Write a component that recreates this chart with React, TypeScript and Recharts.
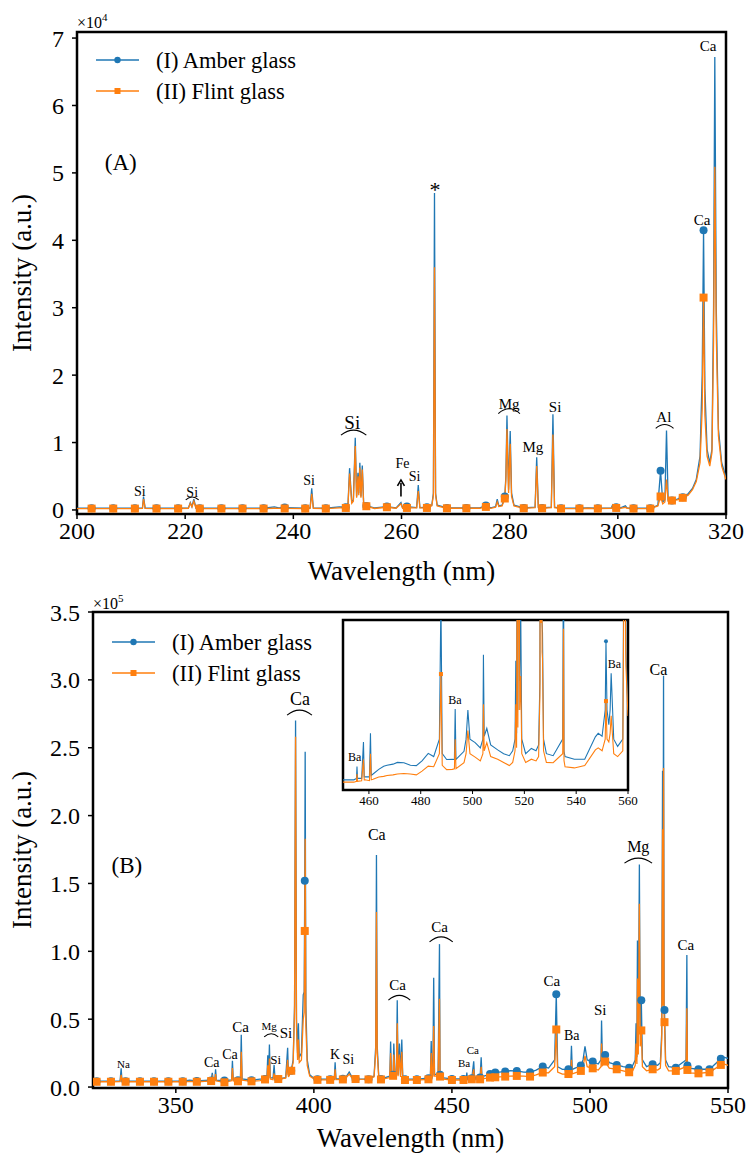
import React from 'react';
import { ComposedChart, Line, XAxis, YAxis, ReferenceDot, ReferenceLine, ReferenceArea } from 'recharts';

const BLUE = '#1f77b4';
const ORANGE = '#ff7f0e';
const FONT = '"Liberation Serif", "DejaVu Serif", serif';

// ---------------- Panel A (200-320 nm) ----------------
const wlA = [200.0, 202.7, 206.7, 210.7, 212.1, 212.3, 212.6, 214.7, 218.7, 220.6, 220.95, 221.25, 221.6, 222.0, 222.7, 226.7, 230.6, 234.5, 236.5, 237.3, 238.4, 242.2, 243.1, 243.4, 243.7, 246.0, 248.5, 249.7, 250.1, 250.4, 250.8, 251.1, 251.45, 251.7, 251.95, 252.1, 252.3, 252.5, 252.75, 253.0, 253.5, 255.0, 257.3, 259.0, 259.9, 260.2, 261.0, 262.8, 263.1, 263.4, 264.7, 265.6, 265.9, 266.1, 266.3, 266.6, 268.4, 272.0, 274.5, 275.6, 276.5, 277.4, 277.7, 278.0, 278.6, 279.1, 279.3, 279.5, 279.8, 280.1, 280.35, 280.8, 282.6, 284.7, 285.0, 285.3, 286.0, 287.7, 288.0, 288.3, 289.5, 292.9, 294.5, 296.3, 298.8, 299.0, 299.3, 299.7, 300.5, 301.4, 301.7, 302.9, 306.0, 307.4, 307.9, 308.3, 308.7, 309.0, 309.3, 310.0, 311.0, 312.0, 313.0, 313.8, 314.5, 315.2, 315.6, 315.85, 316.1, 316.5, 317.0, 317.4, 317.7, 317.93, 318.2, 318.6, 319.2, 320.0];
const amberA = [250, 250, 250, 250, 260, 2000, 260, 250, 250, 300, 1100, 500, 1600, 300, 250, 250, 250, 250, 450, 300, 350, 250, 300, 3200, 300, 250, 450, 400, 700, 6200, 1200, 1500, 10700, 2000, 5500, 2500, 7000, 2000, 6600, 1000, 600, 300, 500, 300, 1100, 300, 500, 350, 3700, 350, 400, 700, 2500, 47000, 2500, 700, 300, 300, 300, 650, 300, 500, 1600, 600, 700, 2000, 5000, 14000, 3000, 11700, 2500, 700, 300, 400, 7800, 400, 300, 400, 14200, 400, 250, 250, 300, 250, 300, 700, 300, 400, 300, 600, 300, 250, 250, 700, 5800, 1200, 1500, 11800, 1500, 1400, 1600, 1900, 2400, 3200, 4500, 8000, 20000, 41500, 18000, 9000, 7000, 9000, 30000, 67200, 30000, 12000, 7000, 4800];
const flintA = [200, 200, 200, 200, 220, 1600, 220, 200, 200, 250, 1000, 450, 1300, 250, 200, 200, 200, 200, 250, 220, 220, 200, 250, 2400, 250, 200, 300, 300, 600, 5400, 1000, 1300, 9500, 1800, 5000, 2200, 6300, 1800, 6000, 900, 550, 220, 400, 250, 900, 250, 300, 300, 2800, 300, 300, 600, 2200, 36000, 2200, 600, 250, 250, 250, 450, 250, 400, 1200, 500, 600, 1700, 4500, 12000, 2500, 9800, 2000, 600, 250, 350, 6500, 350, 250, 350, 11200, 350, 200, 200, 250, 200, 250, 500, 250, 300, 250, 400, 250, 200, 200, 600, 2000, 900, 1200, 4500, 1300, 1400, 1500, 1800, 2200, 3000, 4200, 7000, 15000, 31500, 14000, 8000, 6500, 8500, 25000, 50900, 26000, 11000, 6500, 4500];
const marksA = [202.7, 206.7, 210.7, 214.7, 218.7, 222.7, 226.7, 230.6, 234.5, 238.4, 242.2, 246.0, 249.7, 253.5, 257.3, 261.0, 264.7, 268.4, 272.0, 275.6, 279.1, 282.6, 286.0, 289.5, 292.9, 296.3, 299.7, 302.9, 306.0, 307.9, 310.0, 312.0, 315.85];
const xTicksA = [200, 220, 240, 260, 280, 300, 320];
const yTicksA = [0, 10000, 20000, 30000, 40000, 50000, 60000, 70000];

const labelsA = [
  { t: 'Si', x: 211.6, y: 2700, s: 14 },
  { t: 'Si', x: 221.3, y: 2600, s: 14 },
  { t: 'Si', x: 242.9, y: 4300, s: 14 },
  { t: 'Si', x: 250.9, y: 12900, s: 19 },
  { t: 'Fe', x: 260.2, y: 6900, s: 14 },
  { t: 'Si', x: 262.4, y: 4900, s: 14 },
  { t: '*', x: 266.2, y: 47600, s: 22 },
  { t: 'Mg', x: 279.9, y: 15700, s: 15 },
  { t: 'Mg', x: 284.3, y: 9400, s: 15 },
  { t: 'Si', x: 288.4, y: 15300, s: 15 },
  { t: 'Al', x: 308.5, y: 13800, s: 15 },
  { t: 'Ca', x: 315.6, y: 43000, s: 15 },
  { t: 'Ca', x: 316.7, y: 68800, s: 15 },
  { t: '(A)', x: 208.1, y: 51500, s: 23 },
];
const arcsA = [
  { x1: 220.1, x2: 222.5, y: 1500 },
  { x1: 248.8, x2: 253.5, y: 11100 },
  { x1: 277.9, x2: 281.9, y: 14300 },
  { x1: 307.0, x2: 310.3, y: 12100 },
];

// ---------------- Panel B (320-550 nm, inset to 560 nm) ----------------
const wlB = [320.0, 321.3, 326.5, 329.8, 330.2, 330.5, 331.8, 337.0, 342.1, 347.3, 352.5, 355.0, 357.6, 362.0, 362.8, 363.2, 363.6, 364.1, 364.4, 364.7, 367.6, 370.2, 370.5, 370.8, 372.5, 373.4, 373.7, 374.0, 377.4, 380.5, 382.3, 383.0, 383.3, 383.6, 383.9, 384.2, 385.2, 385.6, 385.9, 387.1, 389.8, 390.5, 390.8, 391.8, 392.5, 393.0, 393.37, 393.7, 394.1, 394.4, 394.7, 395.5, 396.15, 396.5, 396.7, 396.85, 397.1, 397.6, 398.5, 400.0, 401.3, 405.9, 407.4, 407.7, 408.0, 410.5, 411.5, 412.8, 413.9, 415.1, 419.8, 421.8, 422.4, 422.67, 422.95, 423.5, 424.3, 427.5, 427.8, 428.1, 428.7, 428.95, 429.4, 429.9, 430.2, 430.5, 431.0, 431.4, 431.85, 432.2, 433.0, 437.3, 441.5, 442.2, 442.5, 442.8, 443.1, 443.4, 443.7, 445.0, 445.5, 445.7, 446.2, 450.0, 454.2, 455.2, 455.4, 455.6, 457.2, 457.9, 458.2, 458.5, 460.2, 460.6, 460.9, 461.6, 463.8, 465.7, 467.0, 469.3, 471.0, 473.5, 476.0, 478.3, 480.5, 482.9, 485.0, 487.2, 487.8, 488.3, 490.0, 492.2, 493.0, 493.3, 493.6, 496.7, 497.5, 498.2, 499.0, 501.0, 503.0, 504.0, 504.2, 504.5, 505.5, 507.0, 509.7, 512.0, 514.2, 515.5, 516.4, 516.7, 517.0, 517.2, 517.5, 517.9, 518.2, 518.6, 519.0, 520.5, 522.7, 524.5, 525.5, 526.0, 526.3, 526.45, 526.65, 526.85, 527.0, 527.4, 528.5, 531.1, 534.8, 535.1, 535.3, 535.7, 539.3, 543.3, 547.4, 548.5, 550.0, 551.2, 551.5, 551.9, 552.6, 553.1, 553.5, 554.5, 556.0, 558.0, 558.6, 559.2, 560.0];
const amberB = [4300, 4300, 4300, 4400, 13900, 4400, 4300, 4300, 4300, 4300, 4300, 5000, 4500, 5000, 4800, 10400, 5000, 5000, 13100, 5000, 4800, 5200, 19400, 5200, 5000, 6000, 38600, 6000, 5000, 5800, 6000, 7000, 23500, 8000, 31400, 7000, 6500, 16300, 7000, 6000, 7000, 28900, 8000, 12000, 20000, 60000, 270000, 50000, 25000, 47000, 22000, 25000, 68000, 70000, 152000, 247000, 60000, 20000, 9000, 6500, 5800, 5800, 6000, 18200, 6000, 6200, 7000, 11000, 7000, 6000, 5800, 8000, 30000, 171000, 30000, 8000, 6000, 8000, 33600, 9000, 9000, 32000, 9000, 9500, 64000, 9000, 32000, 8500, 35000, 7000, 5800, 5800, 6500, 8000, 34000, 8000, 9000, 80600, 9000, 10000, 105300, 9000, 7000, 6000, 6000, 6500, 10600, 6500, 6500, 19000, 7000, 7000, 7000, 22000, 7500, 8000, 9600, 10700, 11000, 11400, 12000, 11900, 11000, 10900, 12500, 15100, 14000, 20000, 68300, 15000, 13000, 13100, 13000, 30400, 13000, 15800, 20000, 30000, 20000, 18800, 17000, 20000, 49000, 21000, 23700, 18000, 16300, 15000, 14300, 16000, 20000, 47000, 22000, 108000, 30000, 164000, 40000, 64000, 20000, 15000, 16800, 16000, 18000, 40000, 233000, 70000, 303000, 60000, 56700, 20000, 15000, 14300, 20000, 97200, 15800, 14000, 13100, 13100, 20800, 22000, 21000, 30000, 53700, 30000, 25000, 30000, 42700, 20000, 17500, 20000, 120000, 50000, 30000];
const flintB = [3800, 3900, 3900, 4000, 9000, 4000, 3900, 3900, 3900, 3900, 3900, 4200, 3900, 4400, 4400, 7500, 4500, 4500, 9500, 4500, 3500, 4600, 14000, 4600, 4200, 5000, 26000, 5000, 4200, 4800, 5600, 6000, 16000, 6500, 21000, 6000, 5500, 10000, 5800, 5900, 6500, 20000, 7500, 12000, 18000, 55000, 258000, 45000, 20000, 35000, 18000, 20000, 50000, 55000, 115000, 183000, 45000, 16000, 8000, 6000, 5300, 5300, 5500, 13000, 5500, 5600, 6300, 9500, 6300, 5900, 5600, 7500, 25000, 129000, 25000, 7000, 5600, 7000, 25000, 8000, 8300, 24000, 8000, 8500, 47000, 8000, 24000, 7500, 26000, 6000, 5200, 5200, 5700, 7000, 25000, 7000, 8000, 45000, 8000, 8000, 65000, 7700, 6000, 5200, 5200, 5500, 8000, 5500, 5700, 13000, 6000, 6000, 5700, 15000, 6000, 6200, 7000, 7200, 7500, 7700, 8000, 8200, 8000, 7700, 9000, 10700, 10500, 15000, 42400, 11000, 9500, 9600, 9800, 20000, 9800, 11900, 15000, 23000, 15000, 13800, 12500, 15000, 32000, 16000, 18800, 14000, 13100, 12000, 10900, 12000, 16000, 32000, 17000, 80000, 24000, 135000, 30000, 41700, 15000, 12000, 13100, 12500, 14000, 35000, 190000, 60000, 235000, 50000, 47800, 16000, 12000, 11900, 15000, 58000, 12600, 10500, 10100, 10900, 16300, 17000, 16000, 20000, 33100, 20000, 19000, 22000, 28000, 15000, 14000, 16000, 100000, 45000, 28000];
const marksB = [321.3, 326.5, 331.8, 337.0, 342.1, 347.3, 352.5, 357.6, 362.8, 367.6, 372.5, 377.4, 382.3, 387.1, 391.8, 396.7, 401.3, 405.9, 410.5, 415.1, 419.8, 424.3, 428.7, 433.0, 437.3, 441.5, 445.7, 450.0, 454.2, 457.2, 460.2, 463.8, 465.7, 469.3, 473.5, 478.3, 482.9, 487.8, 492.2, 496.7, 501.0, 505.5, 509.7, 514.2, 518.6, 522.7, 527.0, 531.1, 535.3, 539.3, 543.3, 547.4];
const marksInset = [487.8, 551.5];
const xTicksB = [350, 400, 450, 500, 550];
const yTicksB = [0, 50000, 100000, 150000, 200000, 250000, 300000, 350000];
const xTicksInset = [460, 480, 500, 520, 540, 560];

const labelsB = [
  { t: 'Na', x: 331.0, y: 17000, s: 11 },
  { t: 'Ca', x: 363.0, y: 18000, s: 14 },
  { t: 'Ca', x: 369.6, y: 24000, s: 14 },
  { t: 'Ca', x: 373.5, y: 44000, s: 15 },
  { t: 'Mg', x: 383.8, y: 45000, s: 11 },
  { t: 'Si', x: 386.2, y: 20000, s: 13 },
  { t: 'Si', x: 389.9, y: 40000, s: 15 },
  { t: 'Ca', x: 395.0, y: 286000, s: 18 },
  { t: 'K', x: 407.7, y: 24000, s: 14 },
  { t: 'Si', x: 412.5, y: 20000, s: 14 },
  { t: 'Ca', x: 422.8, y: 186000, s: 16 },
  { t: 'Ca', x: 430.3, y: 75000, s: 15 },
  { t: 'Ca', x: 445.5, y: 118000, s: 15 },
  { t: 'Ba', x: 454.4, y: 17500, s: 11 },
  { t: 'Ca', x: 457.6, y: 27000, s: 11 },
  { t: 'Ca', x: 486.2, y: 78000, s: 15 },
  { t: 'Ba', x: 493.4, y: 38000, s: 14 },
  { t: 'Si', x: 503.7, y: 57000, s: 15 },
  { t: 'Mg', x: 517.5, y: 177000, s: 16 },
  { t: 'Ca', x: 524.8, y: 308000, s: 16 },
  { t: 'Ca', x: 534.7, y: 105000, s: 15 },
  { t: '(B)', x: 332.3, y: 163000, s: 23 },
];
const arcsB = [
  { x1: 382.0, x2: 387.1, y: 37000 },
  { x1: 390.3, x2: 399.3, y: 274000 },
  { x1: 427.0, x2: 434.9, y: 64000 },
  { x1: 441.9, x2: 450.3, y: 107000 },
  { x1: 512.5, x2: 522.5, y: 165000 },
];
const labelsInset = [
  { t: 'Ba', x: 454.5, y: 14000, s: 12 },
  { t: 'Ba', x: 493.2, y: 33400, s: 12 },
  { t: 'Ba', x: 554.8, y: 46000, s: 12 },
];

// tables the library needs
const tableA = wlA.map((x, i) => ({ x, amber: amberA[i], flint: flintA[i] }));
const tableB = wlB.map((x, i) => ({ x, amber: amberB[i], flint: flintB[i] }));

function markerDot(marks: number[], kind: 'circle' | 'square', color: string, size: number) {
  const set = new Set(marks);
  return (p: any) => {
    const key = `m-${kind}-${p.index}`;
    if (!p || !p.payload || !set.has(p.payload.x) || p.cx == null || p.cy == null || isNaN(p.cx) || isNaN(p.cy)) {
      return <g key={key} />;
    }
    if (kind === 'circle') return <circle key={key} cx={p.cx} cy={p.cy} r={size / 2} fill={color} />;
    return <rect key={key} x={p.cx - size / 2} y={p.cy - size / 2} width={size} height={size} fill={color} />;
  };
}

function textLabel(l: { t: string; x: number; y: number; s: number }, key: string) {
  return (
    <ReferenceDot
      key={key}
      x={l.x}
      y={l.y}
      r={0}
      ifOverflow="visible"
      isFront
      shape={(p: any) => (
        <text x={p.cx} y={p.cy} textAnchor="middle" dominantBaseline="central" fontSize={l.s} fontFamily={FONT} fill="#000">
          {l.t}
        </text>
      )}
    />
  );
}

function arcLine(a: { x1: number; x2: number; y: number }, key: string) {
  return (
    <ReferenceLine
      key={key}
      segment={[{ x: a.x1, y: a.y }, { x: a.x2, y: a.y }]}
      ifOverflow="visible"
      shape={(p: any) => {
        const { x1, y1, x2, y2 } = p;
        const h = Math.min(Math.abs(x2 - x1) * 0.22, 5);
        const mx = (x1 + x2) / 2;
        return <path d={`M${x1},${y1} Q${mx},${y1 - h * 2} ${x2},${y2}`} fill="none" stroke="#000" strokeWidth={1.1} />;
      }}
    />
  );
}

const tickStyle = { fontSize: 24, fontFamily: FONT, fill: '#000' };

function Legend({ left, top }: { left: number; top: number }) {
  const rows = [
    { label: '(I) Amber glass', color: BLUE, kind: 'circle' },
    { label: '(II) Flint glass', color: ORANGE, kind: 'square' },
  ];
  return (
    <g>
      {rows.map((r, i) => {
        const y = top + i * 31;
        return (
          <g key={i}>
            <line x1={left} x2={left + 43} y1={y} y2={y} stroke={r.color} strokeWidth={1.3} />
            {r.kind === 'circle' ? (
              <circle cx={left + 21.5} cy={y} r={3.2} fill={r.color} />
            ) : (
              <rect x={left + 18.5} y={y - 3} width={6} height={6} fill={r.color} />
            )}
            <text x={left + 60} y={y} dominantBaseline="central" fontSize={22.5} fontFamily={FONT} fill="#000">
              {r.label}
            </text>
          </g>
        );
      })}
    </g>
  );
}

export default function App() {
  return (
    <div style={{ position: 'absolute', left: 0, top: 0, width: 747, height: 1155, background: '#fff', fontFamily: FONT }}>
      {/* Panel A: plot area x 77..726, y 32..514 */}
      <div style={{ position: 'absolute', left: 0, top: 0 }}>
        <ComposedChart width={747} height={580} data={tableA} margin={{ top: 32, right: 21, bottom: 36, left: 17 }}>
          <XAxis dataKey="x" type="number" domain={[200, 320]} ticks={xTicksA} allowDataOverflow axisLine={false}
            tickSize={5} tickMargin={3} height={30} tick={tickStyle} tickLine={{ stroke: '#000', strokeWidth: 1.5 }} interval={0} />
          <YAxis type="number" domain={[-600, 70900]} ticks={yTicksA} allowDataOverflow axisLine={false} width={60}
            tickSize={5} tickMargin={8} tick={tickStyle} tickLine={{ stroke: '#000', strokeWidth: 1.5 }} interval={0}
            tickFormatter={(v: number) => String(Math.round(v / 10000))} />
          <Line dataKey="amber" stroke={BLUE} strokeWidth={1.3} isAnimationActive={false} dot={markerDot(marksA, 'circle', BLUE, 8)} activeDot={false} />
          <Line dataKey="flint" stroke={ORANGE} strokeWidth={1.3} isAnimationActive={false} dot={markerDot(marksA, 'square', ORANGE, 8)} activeDot={false} />
          {arcsA.map((a, i) => arcLine(a, `aa${i}`))}
          {labelsA.map((l, i) => textLabel(l, `la${i}`))}
          <ReferenceLine
            segment={[{ x: 259.9, y: 2000 }, { x: 259.9, y: 4300 }]}
            ifOverflow="visible"
            shape={(p: any) => (
              <g>
                <line x1={p.x1} y1={p.y1} x2={p.x2} y2={p.y2 + 2} stroke="#000" strokeWidth={1.6} />
                <path d={`M${p.x2 - 3.5},${p.y2 + 5} L${p.x2},${p.y2 - 1} L${p.x2 + 3.5},${p.y2 + 5}`} fill="none" stroke="#000" strokeWidth={1.6} />
              </g>
            )}
          />
          <ReferenceArea x1={200} x2={320} y1={-600} y2={70900} fill="none" stroke="#000" strokeWidth={2.5} ifOverflow="visible" />
        </ComposedChart>
      </div>

      {/* Panel B: plot area x 93..728, y 612..1088 */}
      <div style={{ position: 'absolute', left: 0, top: 580 }}>
        <ComposedChart width={747} height={575} data={tableB} margin={{ top: 32, right: 19, bottom: 37, left: 33 }}>
          <XAxis dataKey="x" type="number" domain={[320, 550]} ticks={xTicksB} allowDataOverflow axisLine={false}
            tickSize={5} tickMargin={3} height={30} tick={tickStyle} tickLine={{ stroke: '#000', strokeWidth: 1.5 }} interval={0} />
          <YAxis type="number" domain={[-700, 350000]} ticks={yTicksB} allowDataOverflow axisLine={false} width={60}
            tickSize={5} tickMargin={8} tick={tickStyle} tickLine={{ stroke: '#000', strokeWidth: 1.5 }} interval={0}
            tickFormatter={(v: number) => (v / 100000).toFixed(1)} />
          <Line dataKey="amber" stroke={BLUE} strokeWidth={1.3} isAnimationActive={false} dot={markerDot(marksB, 'circle', BLUE, 8)} activeDot={false} />
          <Line dataKey="flint" stroke={ORANGE} strokeWidth={1.3} isAnimationActive={false} dot={markerDot(marksB, 'square', ORANGE, 8)} activeDot={false} />
          {arcsB.map((a, i) => arcLine(a, `ab${i}`))}
          {labelsB.map((l, i) => textLabel(l, `lb${i}`))}
          <ReferenceArea x1={320} x2={550} y1={-700} y2={350000} fill="none" stroke="#000" strokeWidth={2.5} ifOverflow="visible" />
        </ComposedChart>
      </div>

      {/* Inset: plot area x 343..628, y 620..790 */}
      <div style={{ position: 'absolute', left: 343, top: 620, width: 285, height: 170, background: '#fff' }} />
      <div style={{ position: 'absolute', left: 300, top: 600 }}>
        <ComposedChart width={340} height={225} data={tableB} margin={{ top: 20, right: 12, bottom: 10, left: 43 }}>
          <XAxis dataKey="x" type="number" domain={[450, 560]} ticks={xTicksInset} allowDataOverflow axisLine={false}
            tickSize={4} tickMargin={2} height={25} tick={{ fontSize: 13, fontFamily: FONT, fill: '#000' }}
            tickLine={{ stroke: '#000', strokeWidth: 1 }} interval={0} />
          <YAxis type="number" domain={[2500, 61000]} allowDataOverflow hide width={0} />
          <Line dataKey="amber" stroke={BLUE} strokeWidth={1.1} isAnimationActive={false} dot={markerDot(marksInset, 'circle', BLUE, 4)} activeDot={false} />
          <Line dataKey="flint" stroke={ORANGE} strokeWidth={1.1} isAnimationActive={false} dot={markerDot(marksInset, 'square', ORANGE, 4)} activeDot={false} />
          {labelsInset.map((l, i) => textLabel(l, `li${i}`))}
          <ReferenceArea x1={450} x2={560} y1={2500} y2={61000} fill="none" stroke="#000" strokeWidth={2.5} ifOverflow="visible" />
        </ComposedChart>
      </div>

      {/* axis titles, offset texts and legends */}
      <svg width={747} height={1155} style={{ position: 'absolute', left: 0, top: 0, pointerEvents: 'none' }}>
        <text x={77} y={28} fontSize={16} fontFamily={FONT}>×10<tspan dy={-7} fontSize={11}>4</tspan></text>
        <text x={93} y={609} fontSize={16} fontFamily={FONT}>×10<tspan dy={-7} fontSize={11}>5</tspan></text>
        <text x={401.5} y={571} textAnchor="middle" dominantBaseline="central" fontSize={27} fontFamily={FONT}>Wavelength (nm)</text>
        <text x={410.5} y={1138} textAnchor="middle" dominantBaseline="central" fontSize={27} fontFamily={FONT}>Wavelength (nm)</text>
        <text transform="translate(22,273) rotate(-90)" textAnchor="middle" dominantBaseline="central" fontSize={27} fontFamily={FONT}>Intensity (a.u.)</text>
        <text transform="translate(22,850) rotate(-90)" textAnchor="middle" dominantBaseline="central" fontSize={27} fontFamily={FONT}>Intensity (a.u.)</text>
        <Legend left={96} top={60} />
        <Legend left={112} top={642} />
      </svg>
    </div>
  );
}
